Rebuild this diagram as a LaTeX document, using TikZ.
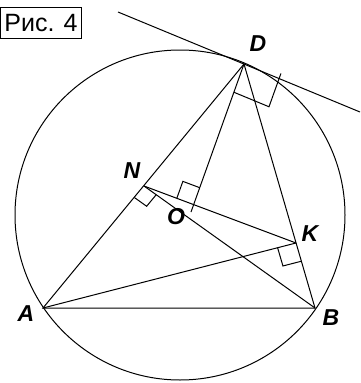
\documentclass[tikz,border=0pt]{standalone}
\usepackage{fontspec}
\setmainfont{Liberation Sans}
\usetikzlibrary{calc}

\begin{document}
\begin{tikzpicture}[x=1pt,y=-1pt,line width=1pt,
  lbl/.style={font=\fontsize{23}{23}\selectfont\bfseries\itshape,inner sep=0pt},
  tag/.style={draw,line width=1.3pt,font=\fontsize{25}{25}\selectfont,minimum width=81pt,minimum height=31pt,inner sep=0pt}]
\useasboundingbox (0,0) rectangle (360,383);
% points of the figure
\coordinate (A) at (43,308);
\coordinate (B) at (315,308);
\coordinate (D) at (244,64);
\coordinate (K) at (296,243);
\coordinate (N) at (144,186);
\coordinate (O) at (191,212);
\coordinate (ctr) at (180,215);
\coordinate (T1) at (118,12);
\coordinate (T2) at (360,112);
\coordinate (M) at (intersection of D--O and N--K);
% circle and tangent at D
\draw (ctr) circle[radius=165pt];
\draw (T1) -- (T2);
% triangle, altitudes, NK and DO
\draw (A) -- (B) -- (D) -- cycle;
\draw (A) -- (K);
\draw (N) -- (B);
\draw (N) -- (K);
\draw (D) -- (O);
% right angles
\path ($(N)!15pt!(A)$) coordinate (na) ($(N)!15pt!(B)$) coordinate (nb);
\draw (na) -- ($(na)+(nb)-(N)$) -- (nb);
\path ($(K)!19pt!(A)$) coordinate (ka) ($(K)!19pt!(B)$) coordinate (kb);
\draw (ka) -- ($(ka)+(kb)-(K)$) -- (kb);
\path ($(M)!18pt!(N)$) coordinate (mn) ($(M)!18pt!(D)$) coordinate (md);
\draw (mn) -- ($(mn)+(md)-(M)$) -- (md);
\path ($(D)!30pt!(O)$) coordinate (dO) ($(D)!38pt!(T2)$) coordinate (dt);
\draw (dO) -- ($(dO)+(dt)-(D)$) coordinate (dc) -- ($(dc)!1.18!(dt)$);
% labels
\node[lbl] (lA) at (26,314) {A};
\node[lbl] (lB) at (331,318) {B};
\node[lbl] (lD) at (258,44) {D};
\node[lbl] (lK) at (310,234) {K};
\node[lbl] (lN) at (132,171) {N};
\node[lbl] (lO) at (176,217) {O};
\node[tag] (fig) at (41,23) {Рис. 4};
\end{tikzpicture}
\end{document}
